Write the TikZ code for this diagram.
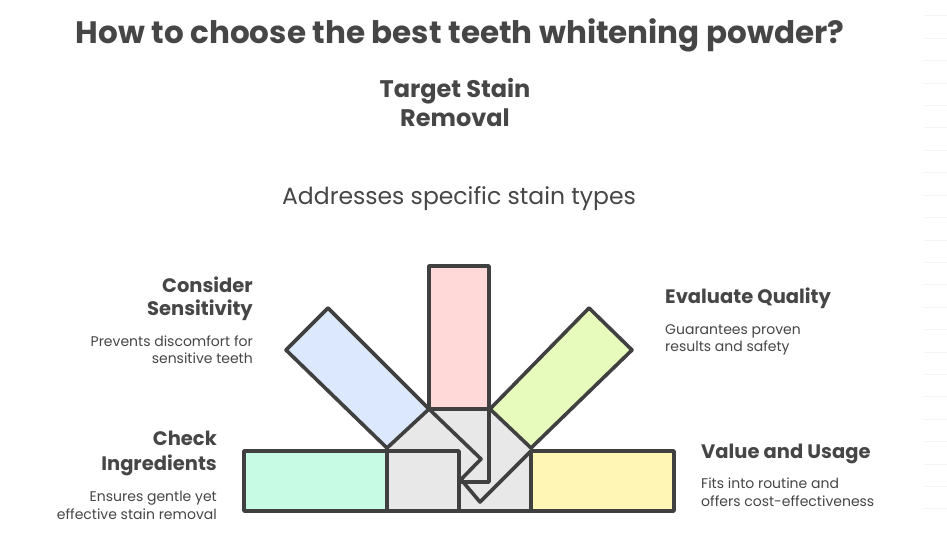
\documentclass[tikz,border=0pt]{standalone}
\usepackage{fontspec}
\setmainfont{Poppins}
\definecolor{ink}{HTML}{404040}
\definecolor{txt}{HTML}{464646}
\definecolor{fred}{HTML}{FFD8D8}
\definecolor{fblue}{HTML}{DCE8FE}
\definecolor{flime}{HTML}{E7FCBC}
\definecolor{fmint}{HTML}{C8FBE3}
\definecolor{fyellow}{HTML}{FFF6B6}
\definecolor{fgray}{HTML}{E8E8E8}
\definecolor{faint}{HTML}{F4F4F4}
\tikzset{
  outline/.style={draw=ink, line width=3.6pt, line join=round, line cap=round},
  titletext/.style={text=txt, font=\bfseries\fontsize{31}{36}\selectfont, inner sep=0pt},
  toptext/.style={text=txt, font=\bfseries\fontsize{24}{28}\selectfont, inner sep=0pt},
  headtext/.style={text=txt, font=\bfseries\fontsize{19.5}{23}\selectfont, inner sep=0pt},
  subtext/.style={text=txt, font=\fontsize{23.5}{28}\selectfont, inner sep=0pt},
  bodytext/.style={text=txt, font=\fontsize{14}{17}\selectfont, inner sep=0pt},
  faintline/.style={draw=faint, line width=1pt}
}
\begin{document}
\begin{tikzpicture}[x=1pt,y=-1pt]
\useasboundingbox (0,0) rectangle (947,559);
\fill[white] (0,0) rectangle (947,559);
% faint lines at right edge
\foreach \k in {0,...,22} {
  \draw[faintline] (924,{16+22.4*\k}) -- (947,{16+22.4*\k});
}
% title
\node[titletext, anchor=base] (title) at (460,44) {How to choose the best teeth whitening powder?};
% top label
\node[toptext, anchor=base] (top1) at (455,98) {Target Stain};
\node[toptext, anchor=base] (top2) at (455,127) {Removal};
\node[subtext, anchor=base] (topd) at (459,204) {Addresses specific stain types};
% left labels
\node[headtext, anchor=base east] (cs1) at (253,292) {Consider};
\node[headtext, anchor=base east] (cs2) at (253,315) {Sensitivity};
\node[bodytext, anchor=base east] (csd1) at (253,346) {Prevents discomfort for};
\node[bodytext, anchor=base east] (csd2) at (253,363) {sensitive teeth};
\node[headtext, anchor=base east] (ci1) at (217,445) {Check};
\node[headtext, anchor=base east] (ci2) at (217,470) {Ingredients};
\node[bodytext, anchor=base east] (cid1) at (217,501.5) {Ensures gentle yet};
\node[bodytext, anchor=base east] (cid2) at (217,519) {effective stain removal};
% right labels
\node[headtext, anchor=base west] (eq1) at (665,303) {Evaluate Quality};
\node[bodytext, anchor=base west] (eqd1) at (665,334) {Guarantees proven};
\node[bodytext, anchor=base west] (eqd2) at (665,351.5) {results and safety};
\node[headtext, anchor=base west] (vu1) at (701,458) {Value and Usage};
\node[bodytext, anchor=base west] (vud1) at (701,488) {Fits into routine and};
\node[bodytext, anchor=base west] (vud2) at (701,506) {offers cost-effectiveness};
% fills
\fill[fgray] (387,448) -- (429,409) -- (489,409) -- (531,448) -- (531,511) -- (387,511) -- cycle;
\fill[fred] (431,268) rectangle (490,407);
\fill[fblue] (328,310) -- (288,350) -- (387,446) -- (427,409) -- cycle;
\fill[flime] (589,310) -- (630,350) -- (531,446) -- (491,409) -- cycle;
\fill[fmint] (246,453) rectangle (386,509);
\fill[fyellow] (532,453) rectangle (672,509);
% outlines
\draw[outline] (429,266) rectangle (489,409);
\draw[outline] (328,308) -- (286,350) -- (387,448) -- (429,409) -- cycle;
\draw[outline] (589,308) -- (632,350) -- (531,448) -- (490,409) -- cycle;
\draw[outline] (244,451) rectangle (387,511);
\draw[outline] (531,451) rectangle (674,511);
\draw[outline] (387,511) -- (531,511);
\draw[outline] (387,451) -- (459,451) -- (459,511);
\draw[outline] (429,409) -- (481,459) -- (461,479.5) -- (480,502) -- (531,451);
\draw[outline] (489,409) -- (489,482) -- (461,482);
\end{tikzpicture}
\end{document}
